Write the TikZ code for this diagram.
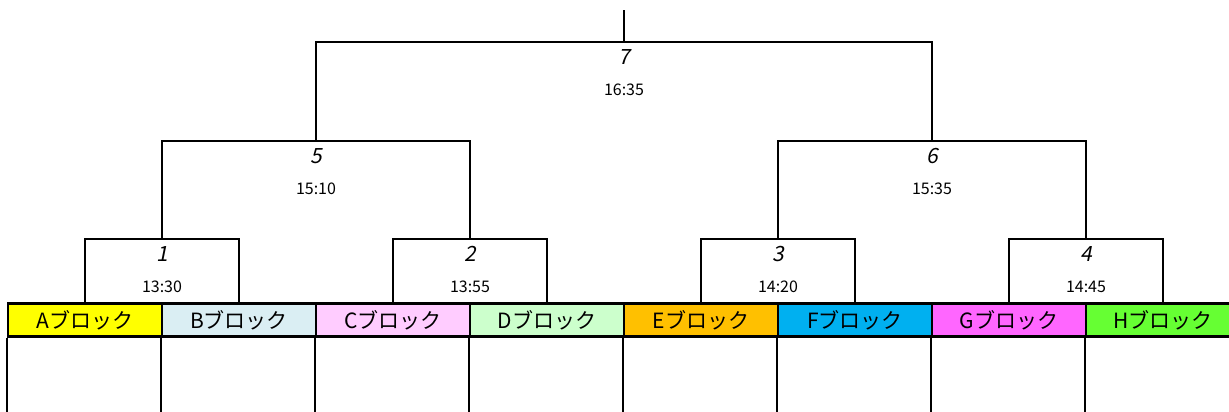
\documentclass[tikz,border=0pt]{standalone}
\usepackage{fontspec}
\setmainfont{Noto Sans CJK JP}
\newfontfamily\slantfont[FakeSlant=0.2]{Noto Sans CJK JP}

\definecolor{blkA}{HTML}{FFFF00}
\definecolor{blkB}{HTML}{DAEEF3}
\definecolor{blkC}{HTML}{FFCCFF}
\definecolor{blkD}{HTML}{CCFFCC}
\definecolor{blkE}{HTML}{FFC000}
\definecolor{blkF}{HTML}{00B0F0}
\definecolor{blkG}{HTML}{FF66FF}
\definecolor{blkH}{HTML}{66FF33}

\tikzset{
  block/.style={draw,line width=2.5pt,minimum width=154pt,minimum height=33pt,
    inner sep=0pt,font=\fontsize{21}{21}\selectfont},
  bracket/.style={line width=2.5pt},
  matchno/.style={font=\slantfont\fontsize{21}{21}\selectfont},
  kickoff/.style={font=\fontsize{16}{16}\selectfont},
}

\begin{document}
\begin{tikzpicture}[x=1pt,y=-1pt]
  \useasboundingbox (0,0) rectangle (1229,412);
  \clip (0,0) rectangle (1229,412);
  % blocks
  \foreach \b [count=\i from 0] in {A,B,C,D,E,F,G,H}
    \node[block,fill=blk\b] (\b) at (85+154*\i,320) {\b ブロック};
  \foreach \b in {A,B,C,D,E,F,G,H}
    \draw[bracket] (\b.south west) -- ++(0,80);
  % match points
  \coordinate (m1) at (162,239);
  \coordinate (m2) at (470,239);
  \coordinate (m3) at (778,239);
  \coordinate (m4) at (1086,239);
  \coordinate (m5) at (316,141);
  \coordinate (m6) at (932,141);
  \coordinate (m7) at (624,42);
  \coordinate (top) at (624,10);
  % brackets
  \draw[bracket] (A.north) |- (m1) -| (B.north);
  \draw[bracket] (C.north) |- (m2) -| (D.north);
  \draw[bracket] (E.north) |- (m3) -| (F.north);
  \draw[bracket] (G.north) |- (m4) -| (H.north);
  \draw[bracket] (m1) |- (m5) -| (m2);
  \draw[bracket] (m3) |- (m6) -| (m4);
  \draw[bracket] (m5) |- (m7) -| (m6);
  \draw[bracket] (m7) -- (top);
  % labels
  \foreach \m/\tm in {1/13:30,2/13:55,3/14:20,4/14:45,5/15:10,6/15:35,7/16:35}
    \path (m\m) ++(0,15) node[matchno] (no\m) {\m}
          ++(0,33) node[kickoff] (time\m) {\tm};
\end{tikzpicture}
\end{document}
